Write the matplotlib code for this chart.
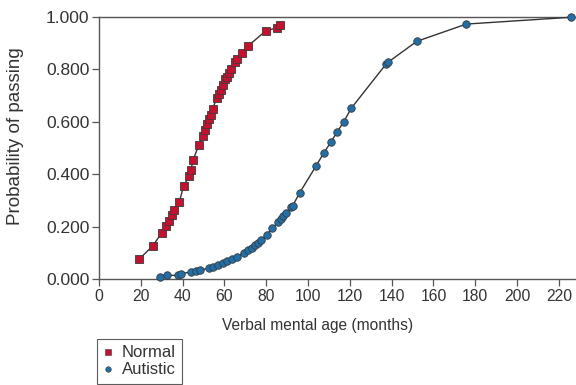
import matplotlib
matplotlib.use("Agg")
import matplotlib.pyplot as plt
from matplotlib.lines import Line2D

plt.rcParams['font.family'] = ['Liberation Sans', 'DejaVu Sans']

normal_age = [19.1, 25.7, 30.1, 32.1, 33.6, 35.1, 35.7, 38.4, 40.5, 43.2, 43.9, 45.1,
              47.8, 49.9, 50.6, 51.7, 52.8, 53.4, 54.4, 56.3, 57.3, 58.2, 59.5, 60.3,
              61.4, 62.2, 63.3, 65.2, 66.2, 68.3, 71.4, 79.9, 85.0, 86.6]
normal_prob = [0.075, 0.126, 0.177, 0.202, 0.221, 0.245, 0.263, 0.294, 0.355, 0.394, 0.416, 0.455,
               0.513, 0.547, 0.567, 0.590, 0.610, 0.627, 0.650, 0.690, 0.706, 0.721, 0.740, 0.762,
               0.771, 0.785, 0.800, 0.828, 0.840, 0.861, 0.890, 0.948, 0.958, 0.969]

autistic_age = [29.2, 32.4, 37.6, 39.2, 44.0, 46.3, 48.3, 52.8, 54.7, 56.9, 59.2, 61.4,
                63.8, 65.9, 69.5, 71.4, 73.0, 74.8, 76.2, 77.5, 80.2, 82.9, 85.8, 86.9,
                88.2, 89.5, 91.7, 92.7, 96.0, 103.8, 107.6, 110.9, 113.9, 117.1, 120.6,
                137.2, 138.4, 152.0, 175.7, 225.7]
autistic_prob = [0.008, 0.014, 0.014, 0.020, 0.027, 0.031, 0.033, 0.042, 0.047, 0.053, 0.060, 0.069,
                 0.077, 0.085, 0.100, 0.111, 0.120, 0.129, 0.139, 0.149, 0.169, 0.193, 0.219, 0.229,
                 0.242, 0.253, 0.274, 0.280, 0.329, 0.431, 0.482, 0.522, 0.561, 0.600, 0.651,
                 0.819, 0.828, 0.907, 0.973, 0.999]

x_ticks = list(range(0, 221, 20))
y_ticks = [0.0, 0.2, 0.4, 0.6, 0.8, 1.0]
y_labels = ['0.000', '0.200', '0.400', '0.600', '0.800', '1.000']

red = '#c8102e'
blue = '#1f6fa8'
edge = '#3a3a3a'
txt = '#333333'

fig = plt.figure(figsize=(5.76, 3.85), dpi=100)
ax = fig.add_axes([99/576, 1-279/385, 1-99/576, (279-17)/385])

ax.plot(normal_age, normal_prob, color='#333333', lw=1.0, marker='s', ms=5.4,
        mfc=red, mec=edge, mew=0.6, zorder=3, clip_on=False)
ax.plot(autistic_age, autistic_prob, color='#333333', lw=1.0, marker='o', ms=5.4,
        mfc=blue, mec=edge, mew=0.6, zorder=3, clip_on=False)

ax.set_xlim(0, 228.2)
ax.set_ylim(0, 1.0)
ax.set_xticks(x_ticks)
ax.set_yticks(y_ticks)
ax.set_yticklabels(y_labels)
ax.spines['right'].set_visible(False)
for s in ['top', 'bottom', 'left']:
    ax.spines[s].set_color('#555555')
    ax.spines[s].set_linewidth(1.0)
ax.tick_params(axis='both', direction='out', length=5, width=0.9, color='#555555',
               labelcolor=txt, pad=2)
ax.tick_params(axis='x', labelsize=11.3)
ax.tick_params(axis='y', labelsize=12.5)
ax.set_xlabel('Verbal mental age (months)', fontsize=11.2, color=txt)
ax.set_ylabel('Probability of passing', fontsize=13.5, color=txt)
ax.xaxis.set_label_coords(0.459, -0.147)
ax.yaxis.set_label_coords(-0.157, 0.545)

handles = [Line2D([], [], ls='none', marker='s', ms=4, mfc=red, mec=edge, mew=0.4),
           Line2D([], [], ls='none', marker='o', ms=4, mfc=blue, mec=edge, mew=0.4)]
leg = fig.legend(handles, ['Normal', 'Autistic'], loc='upper left',
                 bbox_to_anchor=(97/576, 1-339/385), frameon=True, fancybox=False,
                 fontsize=12, handlelength=0.6, handletextpad=0.5, borderpad=0.38,
                 labelspacing=0.12, borderaxespad=0)
leg.get_frame().set_edgecolor('#333333')
leg.get_frame().set_linewidth(0.8)
for t in leg.get_texts():
    t.set_color(txt)

fig.savefig('out.png', dpi=100)
